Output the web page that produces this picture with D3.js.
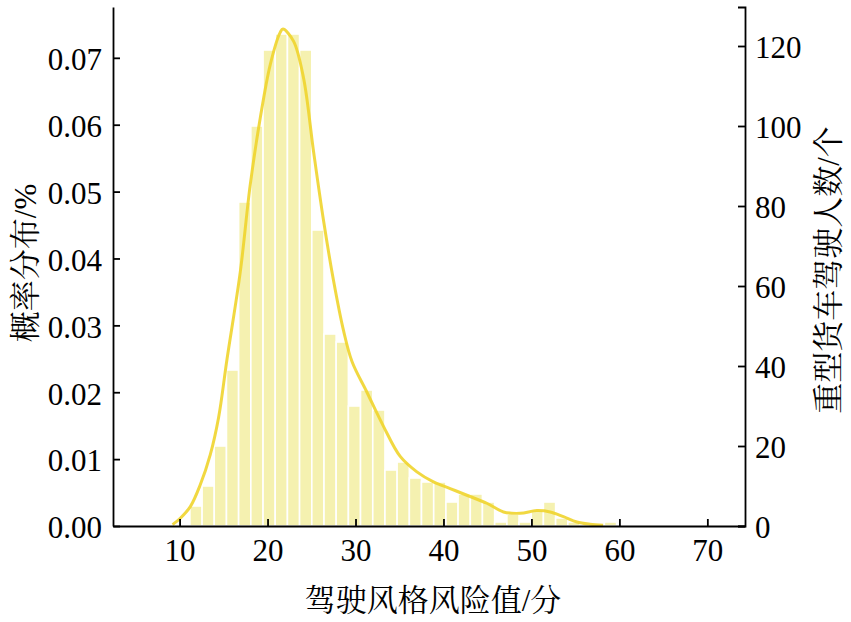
<!DOCTYPE html>
<html>
<head>
<meta charset="utf-8">
<script src="https://cdn.jsdelivr.net/npm/d3@7"></script>
<style>
html,body{margin:0;padding:0;background:#fff;}
svg{display:block;}
</style>
</head>
<body>
<svg id="chart" width="851" height="622"></svg>
<script>
// ---- data ----
const binEdges = [11.17,12.56,13.94,15.33,16.71,18.10,19.49,20.87,22.26,23.64,25.03,26.42,27.80,29.19,30.57,31.96,33.35,34.73,36.12,37.50,38.89,40.28,41.66,43.05,44.43,45.82,47.21,48.59,49.98,51.36,52.75,54.14,55.52,56.91,58.29,59.68];
const binCounts = [5,10,20,39,81,100,119,123,123,119,74,48,46,30,34,29,14,16,12,11,11,6,8,8,6,1,3,1,4,6,2,1,0,0,1];
const kdeX = [9.2,10.08,11.22,12.35,13.49,14.43,15.39,16.90,18.03,19.17,20.31,21.44,21.75,22.95,24.09,25.23,26.36,27.50,28.64,29.60,31.30,33.18,35.08,36.98,38.86,40.76,42.66,44.93,46.82,48.72,50.61,52.13,53.64,55.16,56.67,58.15];
const kdeY = [0.0002,0.00116,0.0029,0.00616,0.01067,0.01618,0.02494,0.0380,0.0510,0.0610,0.0690,0.0738,0.0743,0.0725,0.0670,0.0560,0.0457,0.0367,0.0292,0.0246,0.0200,0.0149,0.0104,0.0081,0.0066,0.0056,0.0046,0.0034,0.0021,0.0019,0.0023,0.0021,0.0014,0.0006,0.00026,0.0001];
const xTicks = [10,20,30,40,50,60,70];
const densTicks = [0,0.01,0.02,0.03,0.04,0.05,0.06,0.07];
const countTicks = [0,20,40,60,80,100,120];
const xTitle = "驾驶风格风险值/分";
const yLeftTitle = "概率分布/%";
const yRightTitle = "重型货车驾驶人数/个";

// ---- layout ----
const L = 113, R = 745, T = 7, B = 526;
const FONT = "'Liberation Serif','Times New Roman','Noto Serif CJK SC','Noto Sans CJK SC',serif";
const FS = 31;
const lineColor = "#efd42c";
const barColor = "#f5f1b0";

const svg = d3.select("#chart");
const x = d3.scaleLinear().domain([2.43, 74.28]).range([L, R]);
const yD = d3.scaleLinear().domain([0, 0.0776]).range([B, T]);
const yC = d3.scaleLinear().domain([0, 129.75]).range([B, T]);

// bars
const bins = binCounts.map((c, i) => ({x0: binEdges[i], x1: binEdges[i+1], c}));
svg.append("g").selectAll("rect").data(bins.filter(d => d.c > 0)).join("rect")
  .attr("x", d => x(d.x0))
  .attr("width", d => x(d.x1) - x(d.x0))
  .attr("y", d => yC(d.c))
  .attr("height", d => yC(0) - yC(d.c))
  .attr("fill", barColor)
  .attr("stroke", "#fff")
  .attr("stroke-width", 1.6);

// kde line
const pts = kdeX.map((v, i) => [v, kdeY[i]]);
svg.append("path")
  .attr("d", d3.line().x(d => x(d[0])).y(d => yD(d[1])).curve(d3.curveCatmullRom.alpha(0.5))(pts))
  .attr("fill", "none")
  .attr("stroke", lineColor)
  .attr("stroke-width", 3)
  .attr("stroke-opacity", 0.9);

// axes
function styleAxis(g) {
  g.selectAll("path.domain").attr("stroke", "#000").attr("stroke-width", 1.8);
  g.selectAll(".tick line").attr("stroke", "#000").attr("stroke-width", 1.8);
  g.selectAll("text").attr("font-family", FONT).attr("font-size", FS).attr("fill", "#000");
}
const gx = svg.append("g").attr("transform", `translate(0,${B})`)
  .call(d3.axisBottom(x).tickValues(xTicks).tickSizeInner(-7).tickSizeOuter(0).tickPadding(13).tickFormat(d3.format("d")));
styleAxis(gx);
const gl = svg.append("g").attr("transform", `translate(${L},0)`)
  .call(d3.axisLeft(yD).tickValues(densTicks).tickSizeInner(-7).tickSizeOuter(0).tickPadding(11).tickFormat(d3.format(".2f")));
styleAxis(gl);
const gr = svg.append("g").attr("transform", `translate(${R},0)`)
  .call(d3.axisRight(yC).tickValues(countTicks).tickSizeInner(-7).tickSizeOuter(-7).tickPadding(10).tickFormat(d3.format("d")));
styleAxis(gr);
gl.selectAll("text").attr("dy", "0.38em");
gr.selectAll("text").attr("dy", "0.38em");

// titles
svg.append("text").attr("x", 433).attr("y", 611)
  .attr("text-anchor", "middle").attr("font-family", FONT).attr("font-size", FS).text(xTitle);
svg.append("text").attr("transform", `translate(36,263) rotate(-90)`)
  .attr("text-anchor", "middle").attr("font-family", FONT).attr("font-size", FS).text(yLeftTitle);
svg.append("text").attr("transform", `translate(839,270) rotate(-90)`)
  .attr("text-anchor", "middle").attr("font-family", FONT).attr("font-size", FS).text(yRightTitle);
</script>
</body>
</html>
